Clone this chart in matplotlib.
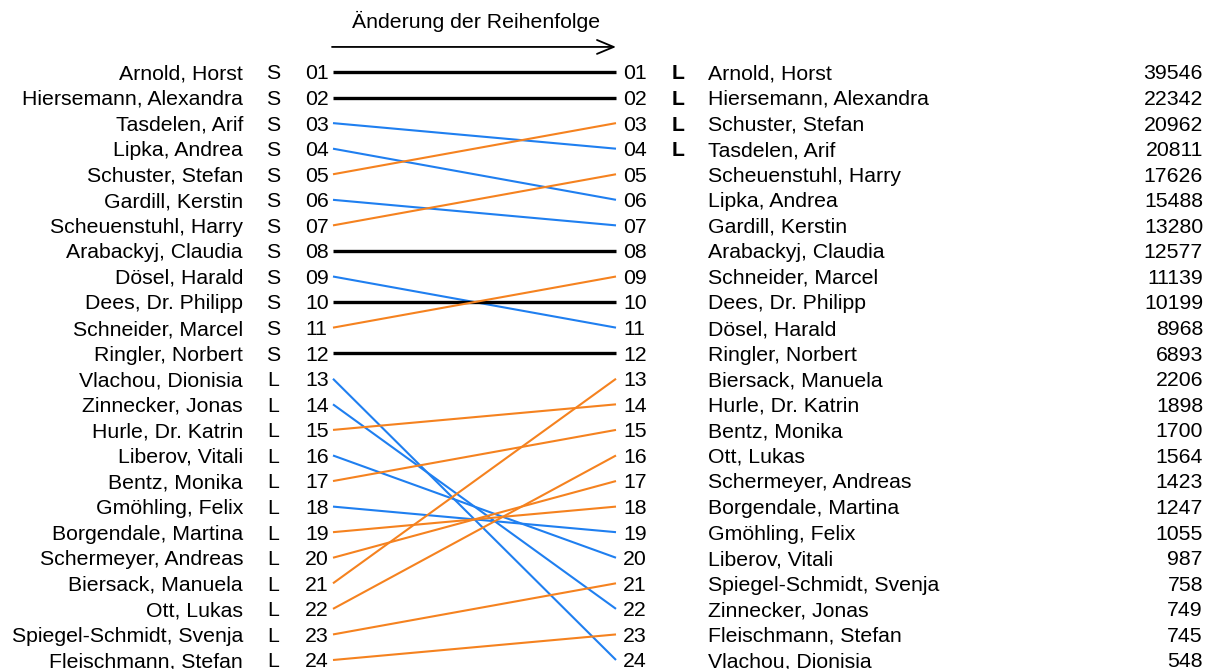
import matplotlib.pyplot as plt

plt.rcParams['font.family'] = ['Liberation Sans', 'DejaVu Sans']

# Liste vorher (Listenplatz) und nachher (nach Stimmen)
left_names = ["Arnold, Horst", "Hiersemann, Alexandra", "Tasdelen, Arif", "Lipka, Andrea",
              "Schuster, Stefan", "Gardill, Kerstin", "Scheuenstuhl, Harry", "Arabackyj, Claudia",
              "Dösel, Harald", "Dees, Dr. Philipp", "Schneider, Marcel", "Ringler, Norbert",
              "Vlachou, Dionisia", "Zinnecker, Jonas", "Hurle, Dr. Katrin", "Liberov, Vitali",
              "Bentz, Monika", "Gmöhling, Felix", "Borgendale, Martina", "Schermeyer, Andreas",
              "Biersack, Manuela", "Ott, Lukas", "Spiegel-Schmidt, Svenja", "Fleischmann, Stefan"]
left_kind = ["S"] * 12 + ["L"] * 12

right_names = ["Arnold, Horst", "Hiersemann, Alexandra", "Schuster, Stefan", "Tasdelen, Arif",
               "Scheuenstuhl, Harry", "Lipka, Andrea", "Gardill, Kerstin", "Arabackyj, Claudia",
               "Schneider, Marcel", "Dees, Dr. Philipp", "Dösel, Harald", "Ringler, Norbert",
               "Biersack, Manuela", "Hurle, Dr. Katrin", "Bentz, Monika", "Ott, Lukas",
               "Schermeyer, Andreas", "Borgendale, Martina", "Gmöhling, Felix", "Liberov, Vitali",
               "Spiegel-Schmidt, Svenja", "Zinnecker, Jonas", "Fleischmann, Stefan", "Vlachou, Dionisia"]
right_votes = [39546, 22342, 20962, 20811, 17626, 15488, 13280, 12577, 11139, 10199, 8968, 6893,
               2206, 1898, 1700, 1564, 1423, 1247, 1055, 987, 758, 749, 745, 548]
right_mark = ["L"] * 4 + [""] * 20

title = "Änderung der Reihenfolge"

BLUE = "#1f7ff0"
ORANGE = "#f5821f"
fs = 15.3

fig = plt.figure(figsize=(12.08, 6.69), dpi=100)
ax = fig.add_axes([0, 0, 1, 1])
ax.set_xlim(0, 1208)
ax.set_ylim(24.352, -1.816)
ax.axis('off')

x0, x1 = 333, 616
bl = 0.29  # baseline offset (rows)

for i, name in enumerate(left_names):
    old = i + 1
    new = right_names.index(name) + 1
    if new == old:
        c, lw = "black", 2.4
    elif new > old:
        c, lw = BLUE, 1.5
    else:
        c, lw = ORANGE, 1.5
    ax.plot([x0, x1], [old, new], color=c, lw=lw, solid_capstyle='butt')

    ax.text(243, old + bl, name, ha='right', va='baseline', fontsize=fs)
    ax.text(273, old + bl, left_kind[i], ha='center', va='baseline', fontsize=fs)
    ax.text(305, old + bl, f"{old:02d}", ha='left', va='baseline', fontsize=fs)

for j, name in enumerate(right_names):
    pos = j + 1
    ax.text(623, pos + bl, f"{pos:02d}", ha='left', va='baseline', fontsize=fs)
    ax.text(672, pos + bl, right_mark[j], ha='left', va='baseline', fontsize=fs, fontweight='bold')
    ax.text(708, pos + bl, name, ha='left', va='baseline', fontsize=fs)
    ax.text(1203, pos + bl, str(right_votes[j]), ha='right', va='baseline', fontsize=fs)

# Pfeil oben
ax.text(476, -1.0 + bl, title, ha='center', va='baseline', fontsize=fs)
ax.annotate("", xy=(616, 0.02), xytext=(332, 0.02),
            arrowprops=dict(arrowstyle='->, head_length=1.2, head_width=0.5', color='black', lw=1.3,
                            shrinkA=0, shrinkB=0))

fig.savefig("out.png", dpi=100)
